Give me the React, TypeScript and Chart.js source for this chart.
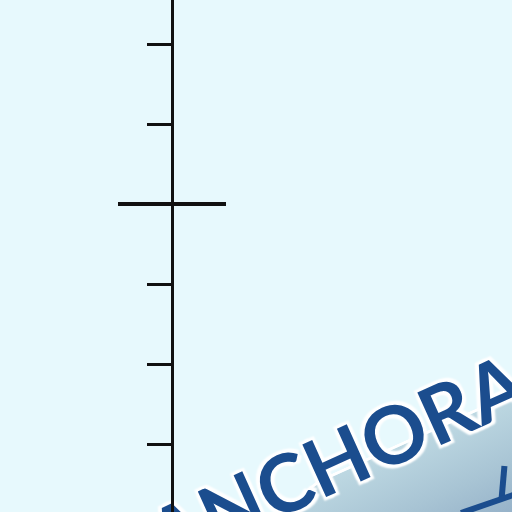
import React, { useEffect, useRef } from "react";
import Chart from "chart.js/auto";

// axis ticks (value units) and the long cross-bar on the axis
const tickValues = [0, 1, 2, 3, 4, 5];
const crossValue = 3;
const crossX = [-54, 54];
const yMin = -0.85;
const yMax = 5.55;
const wordmark = "ANCHORA";

export default function App() {
  const ref = useRef<HTMLCanvasElement>(null);
  useEffect(() => {
    const chart = new Chart(ref.current!, {
      type: "line",
      data: {
        datasets: [
          {
            data: crossX.map((x) => ({ x, y: crossValue })),
            borderColor: "#111111",
            borderWidth: 4,
            pointRadius: 0,
            clip: false,
          } as any,
        ],
      },
      options: {
        animation: false,
        responsive: true,
        maintainAspectRatio: false,
        layout: { padding: { left: 147, top: 0, right: 0, bottom: 0 } },
        plugins: { legend: { display: false }, tooltip: { enabled: false } },
        scales: {
          x: { type: "linear", display: false, min: 0, max: 340 },
          y: {
            type: "linear",
            min: yMin,
            max: yMax,
            afterBuildTicks: (s: any) => {
              s.ticks = tickValues.map((v) => ({ value: v }));
            },
            ticks: { display: false },
            grid: {
              drawOnChartArea: false,
              tickLength: 25,
              lineWidth: 3,
              tickWidth: 3,
              color: "#111111",
            },
            border: { display: true, color: "#111111", width: 3 },
          },
        },
      },
    });
    return () => chart.destroy();
  }, []);

  return (
    <div
      style={{
        position: "fixed",
        left: 0,
        top: 0,
        width: 512,
        height: 512,
        overflow: "hidden",
        background: "#e7f9fd",
      }}
    >
      <div
        style={{
          position: "absolute",
          left: 136,
          top: 505,
          width: 0,
          height: 0,
          transformOrigin: "0 0",
          transform: "rotate(-24.3deg)",
        }}
      >
        <div
          style={{
            position: "absolute",
            left: 125,
            top: 52,
            width: 700,
            height: 220,
            background:
              "linear-gradient(to bottom, #bdd8e2 0%, #a8c4d4 28%, #8eaac4 58%, #7391b2 100%)",
            borderTop: "3px solid #ffffff",
            borderTopLeftRadius: 60,
          }}
        />
        <span
          style={{
            position: "absolute",
            left: 0,
            top: 0,
            fontFamily: "Lato, sans-serif",
            fontWeight: 700,
            fontSize: 80,
            lineHeight: "80px",
            letterSpacing: 0,
            whiteSpace: "nowrap",
            color: "#1b4d8e",
            textShadow:
              "0 0 2px #fff, 2px 0 1px #fff, -2px 0 1px #fff, 0 2px 1px #fff, 0 -2px 1px #fff, 3px 3px 2px #fff, -3px -3px 2px #fff, 3px -3px 2px #fff, -3px 3px 2px #fff",
          }}
        >
          {wordmark}
        </span>
      </div>
      <div
        style={{
          position: "absolute",
          left: 500,
          top: 466,
          width: 6,
          height: 33,
          background: "#1b4d8e",
          transform: "rotate(5deg)",
        }}
      />
      <div
        style={{
          position: "absolute",
          left: 461,
          top: 510,
          width: 58,
          height: 6,
          background: "#1b4d8e",
          transformOrigin: "0 50%",
          transform: "rotate(-19deg)",
        }}
      />
      <div style={{ position: "absolute", left: 0, top: 0, width: 512, height: 512 }}>
        <canvas ref={ref} />
      </div>
    </div>
  );
}
